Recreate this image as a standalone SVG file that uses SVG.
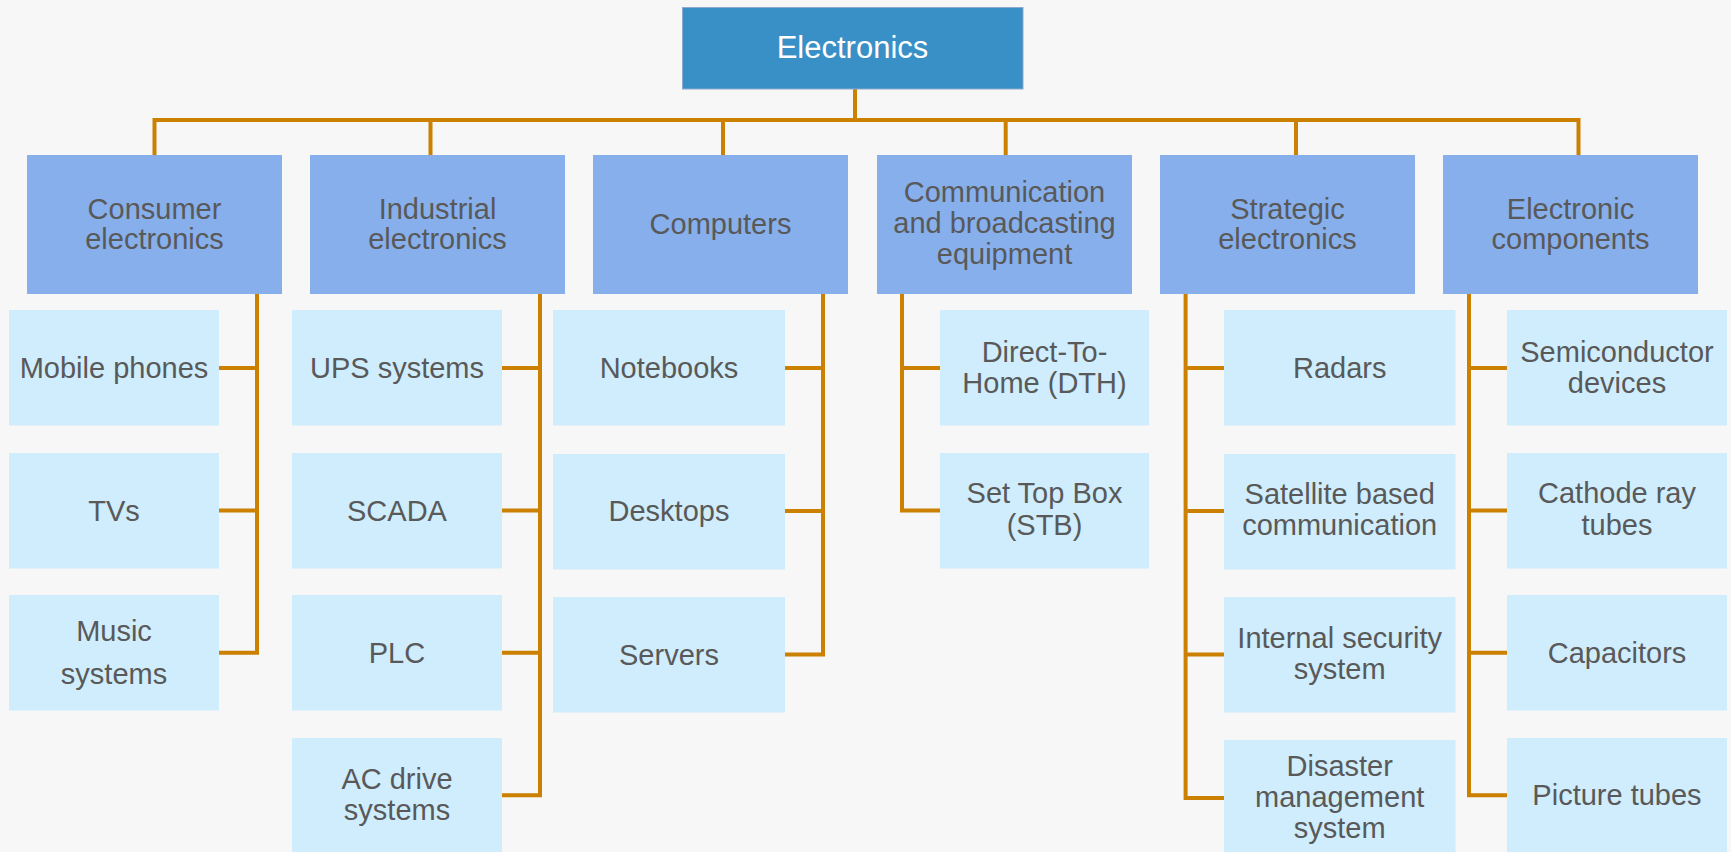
<svg xmlns="http://www.w3.org/2000/svg" width="1731" height="852" viewBox="0 0 1731 852">
<style>
.bg{fill:#F7F7F7}
.root{fill:#3990C6;stroke:#8EA8D0;stroke-width:1}
.l1{fill:#87AFEC}
.l2{fill:#CFEDFD}
text{font-family:"Liberation Sans",Arial,sans-serif;font-size:29px;fill:#595959;text-anchor:middle}
.rt{fill:#FFFFFF;font-size:31px}
.con{fill:none;stroke:#CC8000;stroke-width:4;stroke-linejoin:miter;stroke-linecap:butt}
</style>
<rect class="bg" x="0" y="0" width="1731" height="852"/>
<g id="connectors">
<path class="con" d="M855 89V120M154.5 155V120H1578.5V155M430.5 120V155M723 120V155M1005.7 120V155M1296 120V155"/>
<path class="con" d="M257 294V652.7H219M219 368H257M219 510.5H257"/>
<path class="con" d="M540 294V795.3H502M502 368H540M502 510.5H540M502 652.7H540"/>
<path class="con" d="M823 294V654.5H785M785 368H823M785 511H823"/>
<path class="con" d="M902 294V510.5H940M902 368H940"/>
<path class="con" d="M1185.6 294V798H1224M1185.6 368H1224M1185.6 511H1224M1185.6 654.5H1224"/>
<path class="con" d="M1469 294V795.3H1507M1469 368H1507M1469 510.5H1507M1469 652.7H1507"/>
</g>
<g id="root"><rect class="root" x="682.5" y="7.5" width="340.5" height="81.5"/><text class="rt" x="852.5" y="58">Electronics</text></g>
<g id="consumer"><rect class="l1" x="27" y="155" width="255" height="139"/><text x="154.5" y="218.5">Consumer</text><text x="154.5" y="249">electronics</text></g>
<g id="industrial"><rect class="l1" x="310" y="155" width="255" height="139"/><text x="437.5" y="218.5">Industrial</text><text x="437.5" y="249">electronics</text></g>
<g id="computers"><rect class="l1" x="593" y="155" width="255" height="139"/><text x="720.5" y="234">Computers</text></g>
<g id="communication"><rect class="l1" x="877" y="155" width="255" height="139"/><text x="1004.5" y="202">Communication</text><text x="1004.5" y="233">and broadcasting</text><text x="1004.5" y="264">equipment</text></g>
<g id="strategic"><rect class="l1" x="1160" y="155" width="255" height="139"/><text x="1287.5" y="218.5">Strategic</text><text x="1287.5" y="249">electronics</text></g>
<g id="components"><rect class="l1" x="1443" y="155" width="255" height="139"/><text x="1570.5" y="218.5">Electronic</text><text x="1570.5" y="249">components</text></g>

<g id="mobile"><rect class="l2" x="9" y="310" width="210" height="115.5"/><text x="114" y="378">Mobile phones</text></g>
<g id="tvs"><rect class="l2" x="9" y="453" width="210" height="115.5"/><text x="114" y="520.5">TVs</text></g>
<g id="music"><rect class="l2" x="9" y="595" width="210" height="115.5"/><text x="114" y="641">Music</text><text x="114" y="684">systems</text></g>

<g id="ups"><rect class="l2" x="292" y="310" width="210" height="115.5"/><text x="397" y="378">UPS systems</text></g>
<g id="scada"><rect class="l2" x="292" y="453" width="210" height="115.5"/><text x="397" y="520.5">SCADA</text></g>
<g id="plc"><rect class="l2" x="292" y="595" width="210" height="115.5"/><text x="397" y="662.5">PLC</text></g>
<g id="acdrive"><rect class="l2" x="292" y="738" width="210" height="115.5"/><text x="397" y="789">AC drive</text><text x="397" y="820">systems</text></g>

<g id="notebooks"><rect class="l2" x="553" y="310" width="232" height="115.5"/><text x="669" y="378">Notebooks</text></g>
<g id="desktops"><rect class="l2" x="553" y="454" width="232" height="115.5"/><text x="669" y="521">Desktops</text></g>
<g id="servers"><rect class="l2" x="553" y="597" width="232" height="115.5"/><text x="669" y="664.5">Servers</text></g>

<g id="dth"><rect class="l2" x="940" y="310" width="209" height="115.5"/><text x="1044.5" y="362">Direct-To-</text><text x="1044.5" y="393">Home (DTH)</text></g>
<g id="stb"><rect class="l2" x="940" y="453" width="209" height="115.5"/><text x="1044.5" y="503">Set Top Box</text><text x="1044.5" y="534.5">(STB)</text></g>

<g id="radars"><rect class="l2" x="1224" y="310" width="231.5" height="115.5"/><text x="1339.7" y="378">Radars</text></g>
<g id="satellite"><rect class="l2" x="1224" y="454" width="231.5" height="115.5"/><text x="1339.7" y="503.5">Satellite based</text><text x="1339.7" y="535">communication</text></g>
<g id="security"><rect class="l2" x="1224" y="597" width="231.5" height="115.5"/><text x="1339.7" y="648">Internal security</text><text x="1339.7" y="679">system</text></g>
<g id="disaster"><rect class="l2" x="1224" y="740" width="231.5" height="115"/><text x="1339.7" y="776">Disaster</text><text x="1339.7" y="807">management</text><text x="1339.7" y="838">system</text></g>

<g id="semiconductor"><rect class="l2" x="1507" y="310" width="220" height="115.5"/><text x="1617" y="362">Semiconductor</text><text x="1617" y="393">devices</text></g>
<g id="crt"><rect class="l2" x="1507" y="453" width="220" height="115.5"/><text x="1617" y="503">Cathode ray</text><text x="1617" y="535">tubes</text></g>
<g id="capacitors"><rect class="l2" x="1507" y="595" width="220" height="115.5"/><text x="1617" y="662.5">Capacitors</text></g>
<g id="picture"><rect class="l2" x="1507" y="738" width="220" height="115.5"/><text x="1617" y="805">Picture tubes</text></g>
</svg>
